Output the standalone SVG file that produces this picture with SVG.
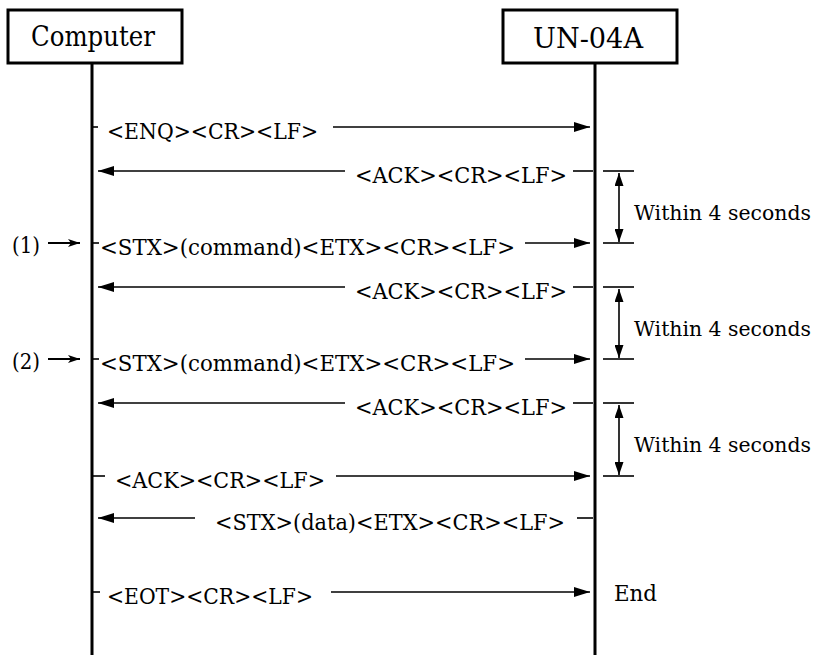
<svg xmlns="http://www.w3.org/2000/svg" width="820" height="655" viewBox="0 0 820 655">
<style>
.box{fill:#fff;stroke:#000;stroke-width:3}
.life{stroke:#000;stroke-width:3}
.hd{font-family:"DejaVu Serif","Liberation Serif",serif;font-size:28px;fill:#000}
.t{font-family:"DejaVu Serif","Liberation Serif",serif;font-size:23px;fill:#000}
.w{font-family:"DejaVu Serif","Liberation Serif",serif;font-size:20.5px;fill:#000}
.ln{stroke:#000;stroke-width:1.6;fill:none}
.arr{marker-end:url(#ah)}
.sm{stroke:#000;stroke-width:2;marker-end:url(#sh)}
.dim{stroke:#000;stroke-width:1.6;marker-start:url(#vh);marker-end:url(#vh)}
</style>
<defs>
<marker id="ah" markerUnits="userSpaceOnUse" markerWidth="16" markerHeight="10" refX="16" refY="5" orient="auto">
<path d="M0,0 L16,5 L0,10 z" fill="#000"/>
</marker>
<marker id="sh" markerUnits="userSpaceOnUse" markerWidth="12" markerHeight="8" refX="12" refY="4" orient="auto">
<path d="M0,0 L12,4 L0,8 L3,4 z" fill="#000"/>
</marker>
<marker id="vh" markerUnits="userSpaceOnUse" markerWidth="13" markerHeight="9" refX="13" refY="4.5" orient="auto-start-reverse">
<path d="M0,0 L13,4.5 L0,9 z" fill="#000"/>
</marker>
</defs>
<rect width="820" height="655" fill="#fff"/>
<g id="computer">
<rect class="box" x="8" y="10" width="174" height="53"/>
<text class="hd" x="31" y="46" textLength="124" lengthAdjust="spacingAndGlyphs">Computer</text>
<line class="life" x1="92" y1="63" x2="92" y2="655"/>
</g>
<g id="un04a">
<rect class="box" x="503" y="10" width="174" height="53"/>
<text class="hd" x="533" y="48" textLength="110" lengthAdjust="spacingAndGlyphs">UN-04A</text>
<line class="life" x1="595" y1="63" x2="595" y2="655"/>
</g>
<g id="connectors">
<line class="ln" x1="93" y1="127" x2="98" y2="127"/>
<line class="ln arr" x1="333" y1="127" x2="590" y2="127"/>
<line class="ln arr" x1="345" y1="171" x2="98" y2="171"/>
<line class="ln" x1="573" y1="171" x2="593" y2="171"/>
<line class="sm" x1="48" y1="243" x2="80" y2="243"/>
<line class="ln" x1="93" y1="243" x2="99" y2="243"/>
<line class="ln arr" x1="525" y1="243" x2="590" y2="243"/>
<line class="ln arr" x1="345" y1="287" x2="98" y2="287"/>
<line class="ln" x1="573" y1="287" x2="593" y2="287"/>
<line class="sm" x1="48" y1="359" x2="80" y2="359"/>
<line class="ln" x1="93" y1="359" x2="99" y2="359"/>
<line class="ln arr" x1="525" y1="359" x2="590" y2="359"/>
<line class="ln arr" x1="345" y1="403" x2="98" y2="403"/>
<line class="ln" x1="573" y1="403" x2="593" y2="403"/>
<line class="ln" x1="93" y1="476" x2="105" y2="476"/>
<line class="ln arr" x1="336" y1="476" x2="590" y2="476"/>
<line class="ln arr" x1="195" y1="518" x2="98" y2="518"/>
<line class="ln" x1="577" y1="518" x2="593" y2="518"/>
<line class="ln" x1="93" y1="592" x2="100" y2="592"/>
<line class="ln arr" x1="331" y1="592" x2="590" y2="592"/>
<line class="ln" x1="603" y1="171" x2="634" y2="171"/>
<line class="ln" x1="603" y1="243" x2="634" y2="243"/>
<line class="dim" x1="619" y1="173" x2="619" y2="242"/>
<line class="ln" x1="603" y1="287" x2="634" y2="287"/>
<line class="ln" x1="603" y1="359" x2="634" y2="359"/>
<line class="dim" x1="619" y1="289" x2="619" y2="358"/>
<line class="ln" x1="603" y1="403" x2="634" y2="403"/>
<line class="ln" x1="603" y1="476" x2="634" y2="476"/>
<line class="dim" x1="619" y1="405" x2="619" y2="475"/>
</g>
<g id="labels">
<text class="t" x="107" y="139" textLength="211" lengthAdjust="spacingAndGlyphs">&lt;ENQ&gt;&lt;CR&gt;&lt;LF&gt;</text>
<text class="t" x="355" y="183" textLength="212" lengthAdjust="spacingAndGlyphs">&lt;ACK&gt;&lt;CR&gt;&lt;LF&gt;</text>
<text class="t" x="12" y="253" textLength="28" lengthAdjust="spacingAndGlyphs">(1)</text>
<text class="t" x="100" y="255" textLength="415" lengthAdjust="spacingAndGlyphs">&lt;STX&gt;(command)&lt;ETX&gt;&lt;CR&gt;&lt;LF&gt;</text>
<text class="t" x="355" y="299" textLength="212" lengthAdjust="spacingAndGlyphs">&lt;ACK&gt;&lt;CR&gt;&lt;LF&gt;</text>
<text class="t" x="12" y="369" textLength="28" lengthAdjust="spacingAndGlyphs">(2)</text>
<text class="t" x="100" y="371" textLength="415" lengthAdjust="spacingAndGlyphs">&lt;STX&gt;(command)&lt;ETX&gt;&lt;CR&gt;&lt;LF&gt;</text>
<text class="t" x="355" y="415" textLength="212" lengthAdjust="spacingAndGlyphs">&lt;ACK&gt;&lt;CR&gt;&lt;LF&gt;</text>
<text class="t" x="115" y="488" textLength="210" lengthAdjust="spacingAndGlyphs">&lt;ACK&gt;&lt;CR&gt;&lt;LF&gt;</text>
<text class="t" x="215" y="530" textLength="350" lengthAdjust="spacingAndGlyphs">&lt;STX&gt;(data)&lt;ETX&gt;&lt;CR&gt;&lt;LF&gt;</text>
<text class="t" x="107" y="604" textLength="206" lengthAdjust="spacingAndGlyphs">&lt;EOT&gt;&lt;CR&gt;&lt;LF&gt;</text>
<text class="t" x="614" y="601" textLength="43" lengthAdjust="spacingAndGlyphs">End</text>
<text class="w" x="634" y="220" textLength="177" lengthAdjust="spacingAndGlyphs">Within 4 seconds</text>
<text class="w" x="634" y="336" textLength="177" lengthAdjust="spacingAndGlyphs">Within 4 seconds</text>
<text class="w" x="634" y="452" textLength="177" lengthAdjust="spacingAndGlyphs">Within 4 seconds</text>
</g>
</svg>
